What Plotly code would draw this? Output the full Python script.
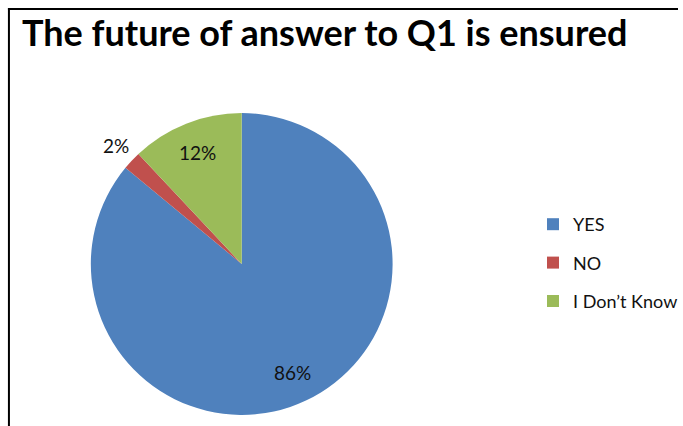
import math
import plotly.graph_objects as go

# Survey answers for Q1
categories = ["YES", "NO", "I Don\u2019t Know"]
shares = [86, 2, 12]
slice_colors = ["#4F81BD", "#C0504D", "#9BBB59"]
label_outside = [False, True, False]

title_text = "The future of answer to Q1 is ensured"

W, H = 683, 426
# pie centre and radius in pixels (from top-left)
CX, CY, R = 243.5, 264, 152

fig = go.Figure()

# Pie: first slice starts at 12 o'clock and runs clockwise
fig.add_trace(go.Pie(
    labels=categories,
    values=shares,
    sort=False,
    direction="clockwise",
    rotation=0,
    marker=dict(colors=slice_colors, line=dict(width=0)),
    textinfo="none",
    showlegend=False,
    hoverinfo="label+percent",
    domain=dict(x=[(CX - R) / W, (CX + R) / W],
                y=[(H - CY - R) / H, (H - CY + R) / H]),
))

# Percentage labels placed along each slice's mid-angle
total = sum(shares)
cum = 0
for share, outside in zip(shares, label_outside):
    mid = (cum + share / 2) / total * 2 * math.pi
    cum += share
    k = 1.14 if outside else 0.79
    px = CX + k * R * math.sin(mid)
    py = CY - k * R * math.cos(mid)
    fig.add_annotation(
        x=px / W, y=1 - py / H, xref="paper", yref="paper",
        text=f"{share / total:.0%}", showarrow=False,
        xanchor="center", yanchor="middle",
        font=dict(family="Lato", size=19, color="#111111"),
    )

# Legend entries, one group per category so the rows can be spaced apart
for name, color in zip(categories, slice_colors):
    fig.add_trace(go.Scatter(
        x=[None], y=[None], mode="markers", name=name,
        legendgroup=name,
        marker=dict(symbol="square", size=12, color=color),
        hoverinfo="skip",
    ))

fig.update_layout(
    width=W, height=H,
    margin=dict(l=0, r=0, t=0, b=0),
    paper_bgcolor="white",
    plot_bgcolor="white",
    xaxis=dict(visible=False),
    yaxis=dict(visible=False),
    title=dict(
        text="<b>" + title_text + "</b>",
        font=dict(family="Lato", size=36, color="#000000"),
        xref="container", yref="container",
        x=22 / W, xanchor="left",
        y=1 - 21 / H, yanchor="top",
        pad=dict(l=0, t=0, b=0, r=0),
    ),
    legend=dict(
        x=537 / W, xanchor="left",
        y=(H - 263) / H, yanchor="middle",
        font=dict(family="Lato", size=18, color="#111111"),
        tracegroupgap=12,
        bgcolor="rgba(0,0,0,0)",
        itemclick=False,
    ),
    shapes=[
        # frame: top and left edges
        dict(type="line", xref="paper", yref="paper",
             x0=8 / W, x1=1, y0=1 - 9 / H, y1=1 - 9 / H,
             line=dict(color="#000000", width=2)),
        dict(type="line", xref="paper", yref="paper",
             x0=9 / W, x1=9 / W, y0=0, y1=1 - 8 / H,
             line=dict(color="#000000", width=2)),
    ],
)

fig.write_html("out.html")
